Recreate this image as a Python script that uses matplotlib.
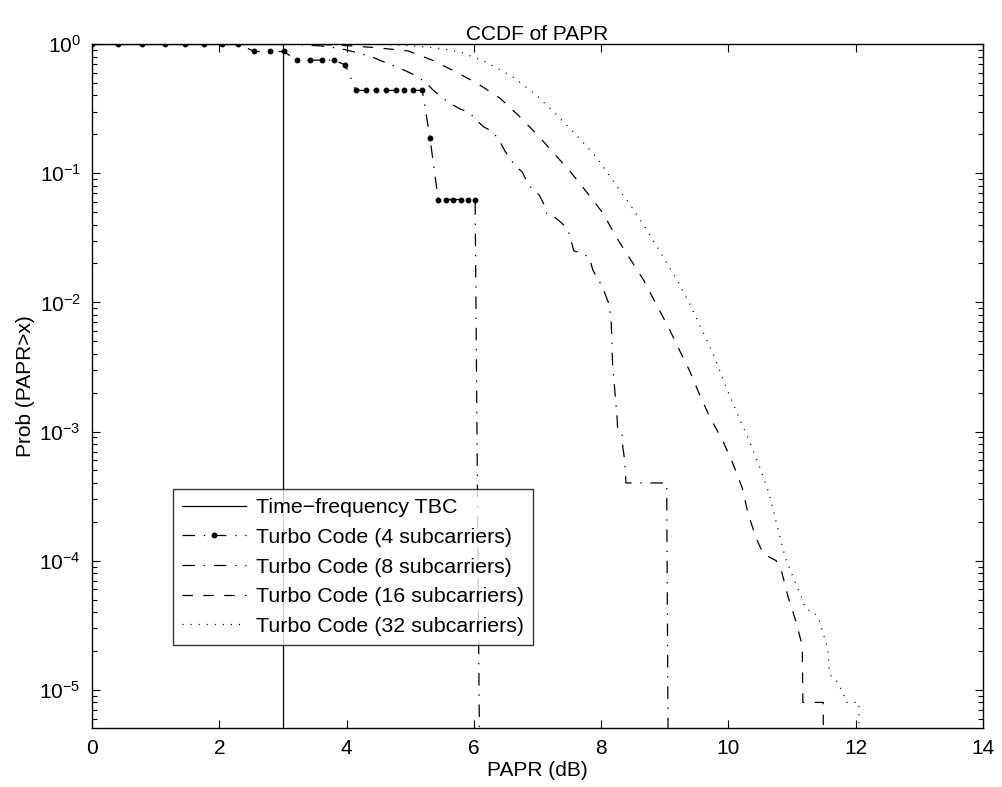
import matplotlib
matplotlib.use("Agg")
import matplotlib.pyplot as plt
from matplotlib.ticker import LogLocator, NullFormatter, FixedLocator

plt.rcParams['font.family'] = ['Liberation Sans', 'DejaVu Sans']
plt.rcParams['mathtext.fontset'] = 'custom'
plt.rcParams['mathtext.rm'] = 'Liberation Sans'
plt.rcParams['mathtext.it'] = 'Liberation Sans'
plt.rcParams['mathtext.bf'] = 'Liberation Sans'
plt.rcParams['lines.scale_dashes'] = False

# PAPR thresholds (dB) and CCDF values for each scheme
tbc_x = [0.0, 3.0, 3.0]
tbc_p = [1.0, 1.0, 1e-8]

tc4_x = [0.00, 0.41, 0.79, 1.14, 1.46, 1.76, 2.04, 2.30, 2.55, 2.79, 3.01,
         3.22, 3.42, 3.62, 3.80, 3.98, 4.15, 4.31, 4.47, 4.62, 4.77, 4.91,
         5.05, 5.19, 5.31, 5.44, 5.56, 5.68, 5.80, 5.91, 6.02, 6.13]
tc4_p = [1, 1, 1, 1, 1, 1, 1, 1, 0.875, 0.875, 0.875,
         0.75, 0.75, 0.75, 0.75, 0.6875, 0.4375, 0.4375, 0.4375, 0.4375,
         0.4375, 0.4375, 0.4375, 0.4375, 0.1875, 0.0625, 0.0625, 0.0625,
         0.0625, 0.0625, 0.0625, 1e-8]

tc8_x = [0.00, 2.55, 3.00, 3.30, 3.60, 3.90, 4.17, 4.40, 4.62, 4.85, 5.07,
         5.25, 5.36, 5.52, 5.65, 5.77, 5.93, 6.04, 6.15, 6.30, 6.41, 6.48,
         6.56, 6.67, 6.76, 6.85, 6.93, 7.03, 7.11, 7.15, 7.27, 7.39, 7.48,
         7.52, 7.57, 7.69, 7.81, 7.87, 7.95, 8.02, 8.08, 8.13, 8.16, 8.18,
         8.25, 8.26, 8.33, 8.34, 8.37, 8.39, 9.03, 9.08]
tc8_p = [1.0, 1.0, 0.9954, 0.9863, 0.966, 0.923, 0.855, 0.794, 0.715, 0.646,
         0.575, 0.501, 0.44, 0.379, 0.343, 0.316, 0.295, 0.257, 0.229, 0.209,
         0.175, 0.151, 0.130, 0.112, 0.102, 0.0832, 0.0741, 0.0676, 0.0562,
         0.0479, 0.0457, 0.0407, 0.0363, 0.0309, 0.0251, 0.0240, 0.0224,
         0.0178, 0.0151, 0.0132, 0.0110, 0.00955, 0.00676, 0.00331, 0.00129,
         0.00102, 0.00095, 0.00076, 0.0006, 0.0004, 0.0004, 1e-8]

tc16_x = [0.00, 3.00, 3.60, 4.10, 4.50, 4.97, 5.34, 5.71, 6.06, 6.41, 6.71,
          6.99, 7.25, 7.53, 7.77, 8.03, 8.23, 8.45, 8.67, 8.86, 9.05, 9.23,
          9.40, 9.56, 9.72, 9.91, 10.08, 10.22, 10.31, 10.44, 10.55, 10.64,
          10.75, 10.84, 10.94, 11.06, 11.16, 11.17, 11.49, 11.50]
tc16_p = [1.0, 1.0, 0.9908, 0.966, 0.933, 0.883, 0.752, 0.611, 0.493, 0.381,
          0.277, 0.200, 0.144, 0.1007, 0.0716, 0.049, 0.0324, 0.0219, 0.0148,
          0.00977, 0.00653, 0.00427, 0.00288, 0.00186, 0.00126, 0.000851,
          0.00055, 0.000363, 0.000229, 0.000148, 0.000112, 0.000107, 0.0001,
          8.1e-5, 5.2e-5, 3.4e-5, 2.2e-5, 8e-6, 8e-6, 1e-8]

tc32_x = [0.00, 3.50, 4.50, 5.00, 5.40, 5.78, 6.20, 6.61, 6.98, 7.29, 7.61,
          7.92, 8.18, 8.45, 8.71, 8.94, 9.18, 9.39, 9.60, 9.78, 9.95, 10.13,
          10.30, 10.48, 10.64, 10.75, 10.89, 11.02, 11.13, 11.22, 11.35,
          11.43, 11.56, 11.58, 11.60, 11.69, 11.80, 11.85, 12.05, 12.06]
tc32_p = [1.0, 1.0, 0.9931, 0.9727, 0.933, 0.871, 0.721, 0.558, 0.403, 0.286,
          0.197, 0.134, 0.0883, 0.0575, 0.0368, 0.024, 0.0153, 0.00977,
          0.00589, 0.0038, 0.00229, 0.00141, 0.000912, 0.00055, 0.000331,
          0.0002, 0.000107, 7.4e-5, 5.5e-5, 4.2e-5, 4.0e-5, 3.4e-5, 2.1e-5,
          1.5e-5, 1.3e-5, 1.2e-5, 9.5e-6, 8e-6, 8e-6, 1e-8]

labels = ['Time\u2212frequency TBC',
          'Turbo Code (4 subcarriers)',
          'Turbo Code (8 subcarriers)',
          'Turbo Code (16 subcarriers)',
          'Turbo Code (32 subcarriers)']

x_ticks = [0, 2, 4, 6, 8, 10, 12, 14]
FS = 15
LFS = 15.4

fig = plt.figure(figsize=(10.02, 7.87), dpi=100)
L, R, T, B = 92, 983, 44, 728
ax = fig.add_axes([L / 1002, 1 - B / 787, (R - L) / 1002, (B - T) / 787])

lw = 0.9
dashdot = (0, (9.0, 6.3, 1.0, 6.3))
ax.semilogy(tbc_x, tbc_p, color='k', lw=lw, ls='-', label=labels[0])
ax.semilogy(tc4_x, tc4_p, color='k', lw=lw, ls=dashdot, marker='o',
            ms=3.2, mfc='k', mec='k', label=labels[1])
ax.semilogy(tc8_x, tc8_p, color='k', lw=lw, ls=dashdot, label=labels[2])
ax.semilogy(tc16_x, tc16_p, color='k', lw=lw, ls=(0, (7.5, 7.5)),
            label=labels[3])
ax.semilogy(tc32_x, tc32_p, color='k', lw=lw, ls=(0, (0.8, 5.0)),
            label=labels[4])

ax.set_xlim(0, 14)
ax.set_ylim(5.07e-6, 1)
ax.xaxis.set_major_locator(FixedLocator(x_ticks))
ax.yaxis.set_major_locator(LogLocator(base=10, numticks=20))
ax.yaxis.set_minor_locator(LogLocator(base=10, subs=range(2, 10), numticks=20))
ax.yaxis.set_minor_formatter(NullFormatter())

ax.tick_params(which='both', direction='in', top=True, right=True,
               labelsize=FS, width=0.8)
ax.tick_params(which='major', length=6, pad=8)
ax.tick_params(which='minor', length=3.5)
for s in ax.spines.values():
    s.set_linewidth(1.0)

ax.set_title('CCDF of PAPR', fontsize=FS, pad=3)
ax.set_xlabel('PAPR (dB)', fontsize=FS, labelpad=2)
ax.set_ylabel('Prob (PAPR>x)', fontsize=FS, labelpad=3)

leg = ax.legend(loc='upper left', bbox_to_anchor=(81 / 891, 239 / 684),
                borderaxespad=0, fontsize=LFS, fancybox=False, frameon=True,
                edgecolor='k', handlelength=3.0, handletextpad=0.45,
                borderpad=0.43, labelspacing=0.50, numpoints=1)
leg.get_frame().set_linewidth(1.0)

fig.savefig('out.png', dpi=100)
